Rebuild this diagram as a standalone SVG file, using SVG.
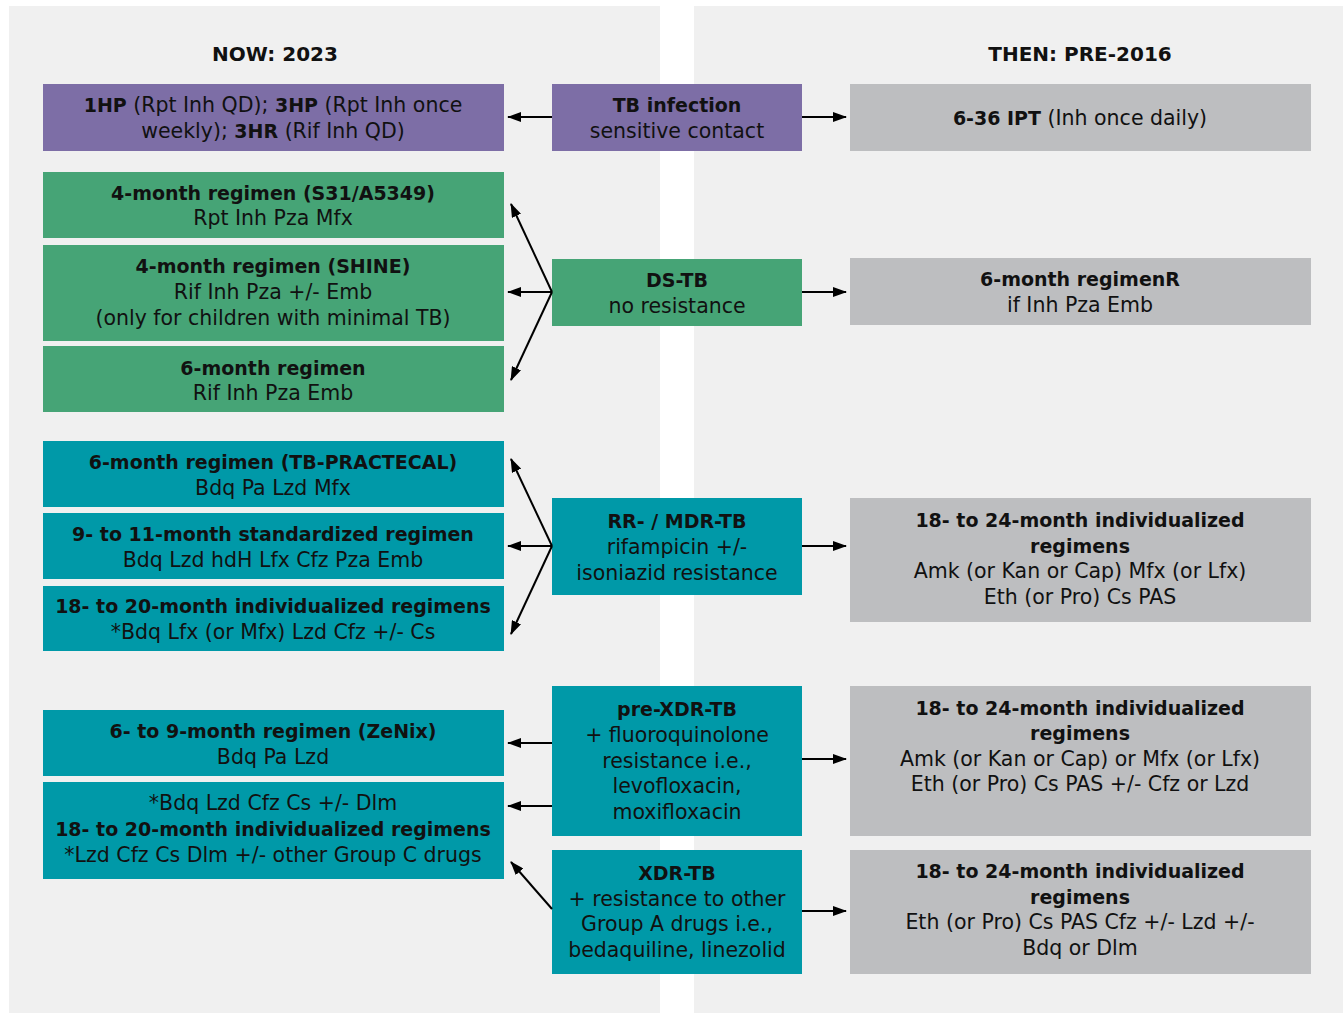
<svg xmlns="http://www.w3.org/2000/svg" width="1343" height="1013" viewBox="0 0 1343 1013">
<defs>
<marker id="ah" viewBox="0 0 14 10" refX="13" refY="5" markerWidth="14" markerHeight="10" markerUnits="userSpaceOnUse" orient="auto">
<path d="M0,0 L14,5 L0,10 Z" fill="#000"/>
</marker>
<style>
text{font-family:"DejaVu Sans","Noto Sans",sans-serif;font-size:20.5px;fill:#111;text-anchor:middle}
.b{font-weight:bold;font-size:19px}
.hd{font-weight:bold;font-size:20px}
.pu{fill:#7d6ea6}
.gr{fill:#46a476}
.te{fill:#0099a8}
.gy{fill:#bdbec0}
.pan{fill:#f0f0f0}
.c line{stroke:#000;stroke-width:2;marker-end:url(#ah)}
</style>
</defs>
<rect width="1343" height="1013" fill="#fff"/>
<rect class="pan" x="9" y="6" width="651" height="1007"/>
<rect class="pan" x="694" y="6" width="649" height="1007"/>
<text class="hd" x="275" y="61">NOW: 2023</text>
<text class="hd" x="1080" y="61">THEN: PRE-2016</text>

<g id="now-infection"><rect class="pu" x="43" y="84" width="461" height="67"/>
<text x="273" y="112"><tspan class="b">1HP</tspan> (Rpt Inh QD); <tspan class="b">3HP</tspan> (Rpt Inh once</text>
<text x="273" y="138">weekly); <tspan class="b">3HR</tspan> (Rif Inh QD)</text></g>

<g id="now-ds1"><rect class="gr" x="43" y="172" width="461" height="66"/>
<text class="b" x="273" y="200">4-month regimen (S31/A5349)</text>
<text x="273" y="225">Rpt Inh Pza Mfx</text></g>
<g id="now-ds2"><rect class="gr" x="43" y="245" width="461" height="96"/>
<text class="b" x="273" y="273">4-month regimen (SHINE)</text>
<text x="273" y="299">Rif Inh Pza +/- Emb</text>
<text x="273" y="325">(only for children with minimal TB)</text></g>
<g id="now-ds3"><rect class="gr" x="43" y="346" width="461" height="66"/>
<text class="b" x="273" y="375">6-month regimen</text>
<text x="273" y="400">Rif Inh Pza Emb</text></g>

<g id="now-rr1"><rect class="te" x="43" y="441" width="461" height="66"/>
<text class="b" x="273" y="469">6-month regimen (TB-PRACTECAL)</text>
<text x="273" y="495">Bdq Pa Lzd Mfx</text></g>
<g id="now-rr2"><rect class="te" x="43" y="513" width="461" height="66"/>
<text class="b" x="273" y="541">9- to 11-month standardized regimen</text>
<text x="273" y="567">Bdq Lzd hdH Lfx Cfz Pza Emb</text></g>
<g id="now-rr3"><rect class="te" x="43" y="586" width="461" height="65"/>
<text class="b" x="273" y="613">18- to 20-month individualized regimens</text>
<text x="273" y="639">*Bdq Lfx (or Mfx) Lzd Cfz +/- Cs</text></g>

<g id="now-pre1"><rect class="te" x="43" y="710" width="461" height="66"/>
<text class="b" x="273" y="738">6- to 9-month regimen (ZeNix)</text>
<text x="273" y="764">Bdq Pa Lzd</text></g>
<g id="now-pre2"><rect class="te" x="43" y="782" width="461" height="97"/>
<text x="273" y="810">*Bdq Lzd Cfz Cs +/- Dlm</text>
<text class="b" x="273" y="836">18- to 20-month individualized regimens</text>
<text x="273" y="862">*Lzd Cfz Cs Dlm +/- other Group C drugs</text></g>

<g id="mid-infection"><rect class="pu" x="552" y="84" width="250" height="67"/>
<text class="b" x="677" y="112">TB infection</text>
<text x="677" y="138">sensitive contact</text></g>
<g id="mid-ds"><rect class="gr" x="552" y="259" width="250" height="67"/>
<text class="b" x="677" y="287">DS-TB</text>
<text x="677" y="313">no resistance</text></g>
<g id="mid-rr"><rect class="te" x="552" y="498" width="250" height="97"/>
<text class="b" x="677" y="528">RR- / MDR-TB</text>
<text x="677" y="554">rifampicin +/-</text>
<text x="677" y="580">isoniazid resistance</text></g>
<g id="mid-prexdr"><rect class="te" x="552" y="686" width="250" height="150"/>
<text class="b" x="677" y="716">pre-XDR-TB</text>
<text x="677" y="742">+ fluoroquinolone</text>
<text x="677" y="768">resistance i.e.,</text>
<text x="677" y="793">levofloxacin,</text>
<text x="677" y="819">moxifloxacin</text></g>
<g id="mid-xdr"><rect class="te" x="552" y="850" width="250" height="124"/>
<text class="b" x="677" y="880">XDR-TB</text>
<text x="677" y="906">+ resistance to other</text>
<text x="677" y="931">Group A drugs i.e.,</text>
<text x="677" y="957">bedaquiline, linezolid</text></g>

<g id="then-infection"><rect class="gy" x="850" y="84" width="461" height="67"/>
<text x="1080" y="125"><tspan class="b">6-36 IPT</tspan> (Inh once daily)</text></g>
<g id="then-ds"><rect class="gy" x="850" y="258" width="461" height="67"/>
<text class="b" x="1080" y="286">6-month regimenR</text>
<text x="1080" y="312">if Inh Pza Emb</text></g>
<g id="then-rr"><rect class="gy" x="850" y="498" width="461" height="124"/>
<text class="b" x="1080" y="527">18- to 24-month individualized</text>
<text class="b" x="1080" y="553">regimens</text>
<text x="1080" y="578">Amk (or Kan or Cap) Mfx (or Lfx)</text>
<text x="1080" y="604">Eth (or Pro) Cs PAS</text></g>
<g id="then-prexdr"><rect class="gy" x="850" y="686" width="461" height="150"/>
<text class="b" x="1080" y="715">18- to 24-month individualized</text>
<text class="b" x="1080" y="740">regimens</text>
<text x="1080" y="766">Amk (or Kan or Cap) or Mfx (or Lfx)</text>
<text x="1080" y="791">Eth (or Pro) Cs PAS +/- Cfz or Lzd</text></g>
<g id="then-xdr"><rect class="gy" x="850" y="850" width="461" height="124"/>
<text class="b" x="1080" y="878">18- to 24-month individualized</text>
<text class="b" x="1080" y="904">regimens</text>
<text x="1080" y="929">Eth (or Pro) Cs PAS Cfz +/- Lzd +/-</text>
<text x="1080" y="955">Bdq or Dlm</text></g>

<g id="connectors" class="c">
<line x1="552" y1="117" x2="508" y2="117"/>
<line x1="802" y1="117" x2="846" y2="117"/>
<line x1="552" y1="292" x2="511" y2="204"/>
<line x1="552" y1="292" x2="508" y2="292"/>
<line x1="552" y1="292" x2="511" y2="380"/>
<line x1="802" y1="292" x2="846" y2="292"/>
<line x1="552" y1="546" x2="511" y2="459"/>
<line x1="552" y1="546" x2="508" y2="546"/>
<line x1="552" y1="546" x2="511" y2="634"/>
<line x1="802" y1="546" x2="846" y2="546"/>
<line x1="552" y1="743" x2="508" y2="743"/>
<line x1="552" y1="806" x2="508" y2="806"/>
<line x1="802" y1="759" x2="846" y2="759"/>
<line x1="552" y1="909" x2="511" y2="862"/>
<line x1="802" y1="911" x2="846" y2="911"/>
</g>
</svg>
